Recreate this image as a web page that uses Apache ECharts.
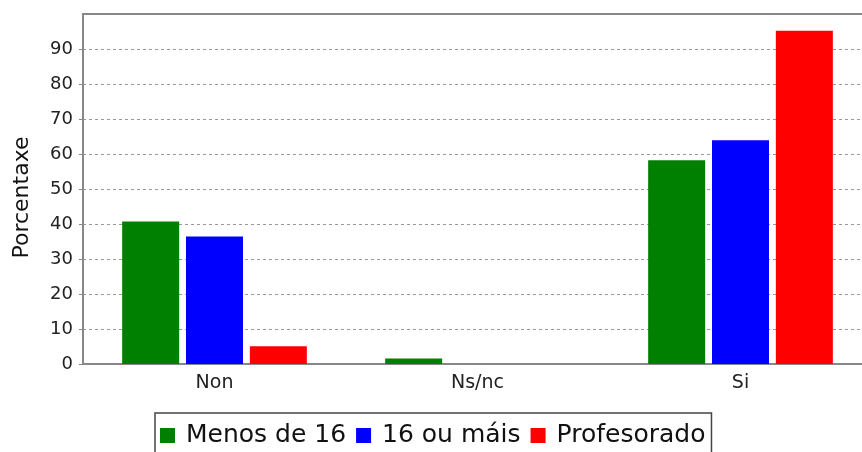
<!DOCTYPE html>
<html>
<head>
<meta charset="utf-8">
<script src="https://cdn.jsdelivr.net/npm/echarts@6/dist/echarts.min.js"></script>
<style>
  html, body { margin: 0; padding: 0; background: #fff; }
  #chart { width: 862px; height: 452px; }
</style>
</head>
<body>
<div id="chart"></div>
<script>
var categories = ['Non', 'Ns/nc', 'Si'];
var menos16 = [40.7, 1.6, 58.2];
var maisDe16 = [36.4, 0, 63.9];
var profesorado = [5.1, 0, 95.2];
var seriesNames = ['Menos de 16', '16 ou máis', 'Profesorado'];
var yTicks = [0, 10, 20, 30, 40, 50, 60, 70, 80, 90];

var myChart = echarts.init(document.getElementById('chart'));
var fontFam = 'DejaVu Sans';

var option = {
    animation: false,
    textStyle: { fontFamily: fontFam },
    grid: {
        left: 83,
        top: 14,
        width: 789,
        height: 350,
        outerBoundsMode: 'none',
        show: true,
        borderColor: '#888',
        borderWidth: 2
    },
    legend: {
        left: 155,
        top: 413,
        itemWidth: 15,
        itemHeight: 15,
        itemGap: 10,
        padding: [10, 6, 12, 5],
        borderColor: '#444',
        borderWidth: 1.5,
        borderRadius: 0,
        icon: 'rect',
        textStyle: { fontSize: 25, color: '#111', fontFamily: fontFam, padding: [0, 0, 0, 6] },
        data: seriesNames
    },
    xAxis: {
        type: 'category',
        data: categories,
        axisLine: { lineStyle: { color: '#888', width: 2 } },
        axisTick: { alignWithLabel: true, length: 4, lineStyle: { color: '#888' } },
        axisLabel: { fontSize: 19, color: '#222', margin: 10 }
    },
    yAxis: {
        type: 'value',
        min: 0,
        max: 100,
        interval: 10,
        name: 'Porcentaxe',
        nameLocation: 'middle',
        nameGap: 50,
        nameRotate: 90,
        nameTextStyle: { fontSize: 22, color: '#111', fontFamily: fontFam, padding: [0, 17, 0, 0] },
        axisLine: { show: true, lineStyle: { color: '#888', width: 2 } },
        axisTick: { show: true, length: 4, customValues: yTicks, lineStyle: { color: '#888' } },
        axisLabel: { fontSize: 18, color: '#222', margin: 10, customValues: yTicks },
        splitLine: { show: true, lineStyle: { color: '#999', type: [3, 3], width: 1 } }
    },
    series: [{
        name: seriesNames[0],
        type: 'bar',
        data: menos16,
        barWidth: 57,
        barGap: '12%',
        itemStyle: { color: '#008000' }
    }, {
        name: seriesNames[1],
        type: 'bar',
        data: maisDe16,
        barWidth: 57,
        barGap: '12%',
        itemStyle: { color: '#0000ff' }
    }, {
        name: seriesNames[2],
        type: 'bar',
        data: profesorado,
        barWidth: 57,
        barGap: '12%',
        itemStyle: { color: '#ff0000' }
    }]
};

myChart.setOption(option);
</script>
</body>
</html>
